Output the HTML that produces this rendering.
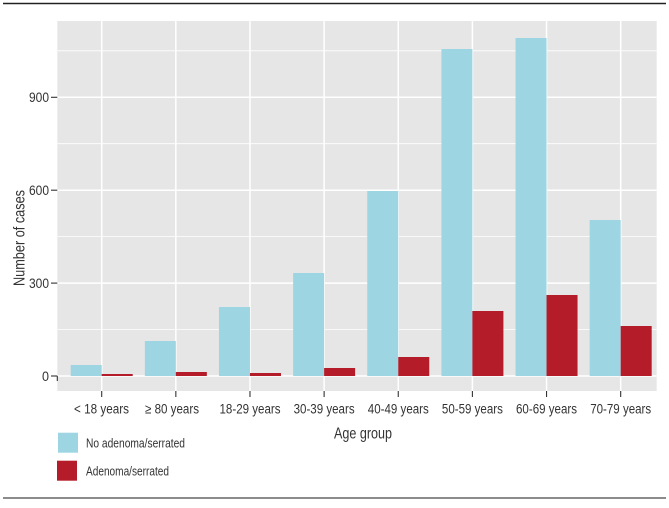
<!DOCTYPE html>
<html><head><meta charset="utf-8"><style>
html,body{margin:0;padding:0;background:#fff;}
svg{display:block;}
text{font-family:"Liberation Sans",sans-serif;fill:#333;}
</style></head><body>
<svg width="669" height="508" viewBox="0 0 669 508" xmlns="http://www.w3.org/2000/svg">
<line x1="3" y1="3.5" x2="666" y2="3.5" stroke="#222" stroke-width="1.6"/>
<line x1="3" y1="498" x2="666" y2="498" stroke="#666" stroke-width="1.6"/>
<rect x="57.3" y="21" width="599.4" height="370" fill="#E6E6E6"/>
<g stroke="#fff" stroke-width="0.8">
<line x1="57.3" x2="656.7" y1="329.5" y2="329.5"/>
<line x1="57.3" x2="656.7" y1="236.6" y2="236.6"/>
<line x1="57.3" x2="656.7" y1="143.7" y2="143.7"/>
<line x1="57.3" x2="656.7" y1="50.8" y2="50.8"/>
</g>
<g stroke="#fff" stroke-width="1.5">
<line x1="57.3" x2="656.7" y1="376" y2="376"/>
<line x1="57.3" x2="656.7" y1="283.1" y2="283.1"/>
<line x1="57.3" x2="656.7" y1="190.2" y2="190.2"/>
<line x1="57.3" x2="656.7" y1="97.3" y2="97.3"/>
<line y1="21" y2="391" x1="101.7" x2="101.7"/>
<line y1="21" y2="391" x1="175.84" x2="175.84"/>
<line y1="21" y2="391" x1="249.98" x2="249.98"/>
<line y1="21" y2="391" x1="324.12" x2="324.12"/>
<line y1="21" y2="391" x1="398.26" x2="398.26"/>
<line y1="21" y2="391" x1="472.4" x2="472.4"/>
<line y1="21" y2="391" x1="546.54" x2="546.54"/>
<line y1="21" y2="391" x1="620.68" x2="620.68"/>
</g>
<g fill="#9DD5E2">
<rect x="70.7" y="365" width="31" height="11"/>
<rect x="144.84" y="341" width="31" height="35"/>
<rect x="218.98" y="307" width="31" height="69"/>
<rect x="293.12" y="273" width="31" height="103"/>
<rect x="367.26" y="191" width="31" height="185"/>
<rect x="441.4" y="49" width="31" height="327"/>
<rect x="515.54" y="38" width="31" height="338"/>
<rect x="589.68" y="220" width="31" height="156"/>
</g>
<g fill="#B31C28">
<rect x="101.7" y="374" width="31" height="2"/>
<rect x="175.84" y="372" width="31" height="4"/>
<rect x="249.98" y="373" width="31" height="3"/>
<rect x="324.12" y="368" width="31" height="8"/>
<rect x="398.26" y="357" width="31" height="19"/>
<rect x="472.4" y="311" width="31" height="65"/>
<rect x="546.54" y="295" width="31" height="81"/>
<rect x="620.68" y="326" width="31" height="50"/>
</g>
<g stroke="#333" stroke-width="1.1">
<line x1="51" x2="57.3" y1="376" y2="376"/>
<line x1="57.3" x2="57.3" y1="376" y2="381"/>
<line x1="51" x2="57.3" y1="283.1" y2="283.1"/>
<line x1="51" x2="57.3" y1="190.2" y2="190.2"/>
<line x1="51" x2="57.3" y1="97.3" y2="97.3"/>
<line y1="391" y2="397" x1="101.7" x2="101.7"/>
<line y1="391" y2="397" x1="175.84" x2="175.84"/>
<line y1="391" y2="397" x1="249.98" x2="249.98"/>
<line y1="391" y2="397" x1="324.12" x2="324.12"/>
<line y1="391" y2="397" x1="398.26" x2="398.26"/>
<line y1="391" y2="397" x1="472.4" x2="472.4"/>
<line y1="391" y2="397" x1="546.54" x2="546.54"/>
<line y1="391" y2="397" x1="620.68" x2="620.68"/>
</g>
<g font-size="13.5" text-anchor="end">
<text x="49" y="380.8" textLength="7" lengthAdjust="spacingAndGlyphs">0</text>
<text x="49" y="287.9" textLength="20" lengthAdjust="spacingAndGlyphs">300</text>
<text x="49" y="195" textLength="20" lengthAdjust="spacingAndGlyphs">600</text>
<text x="49" y="102.1" textLength="20" lengthAdjust="spacingAndGlyphs">900</text>
</g>
<g font-size="13.5">
<text x="74" y="413.5" textLength="55" lengthAdjust="spacingAndGlyphs">&lt; 18 years</text>
<text x="145" y="413.5" textLength="54" lengthAdjust="spacingAndGlyphs">≥ 80 years</text>
<text x="219.5" y="413.5" textLength="61" lengthAdjust="spacingAndGlyphs">18-29 years</text>
<text x="293.6" y="413.5" textLength="61" lengthAdjust="spacingAndGlyphs">30-39 years</text>
<text x="367.8" y="413.5" textLength="61" lengthAdjust="spacingAndGlyphs">40-49 years</text>
<text x="441.9" y="413.5" textLength="61" lengthAdjust="spacingAndGlyphs">50-59 years</text>
<text x="516" y="413.5" textLength="61" lengthAdjust="spacingAndGlyphs">60-69 years</text>
<text x="590.2" y="413.5" textLength="61" lengthAdjust="spacingAndGlyphs">70-79 years</text>
</g>
<text x="334" y="438.5" font-size="16" textLength="58" lengthAdjust="spacingAndGlyphs">Age group</text>
<text transform="translate(24.5,286) rotate(-90)" font-size="15.5" textLength="96" lengthAdjust="spacingAndGlyphs">Number of cases</text>
<rect x="58" y="432.7" width="20" height="20" fill="#9DD5E2"/>
<rect x="57" y="460.7" width="20" height="20" fill="#B31C28"/>
<g font-size="13">
<text x="86" y="447.3" textLength="99" lengthAdjust="spacingAndGlyphs">No adenoma/serrated</text>
<text x="86" y="475.3" textLength="83" lengthAdjust="spacingAndGlyphs">Adenoma/serrated</text>
</g>
</svg>
</body></html>
